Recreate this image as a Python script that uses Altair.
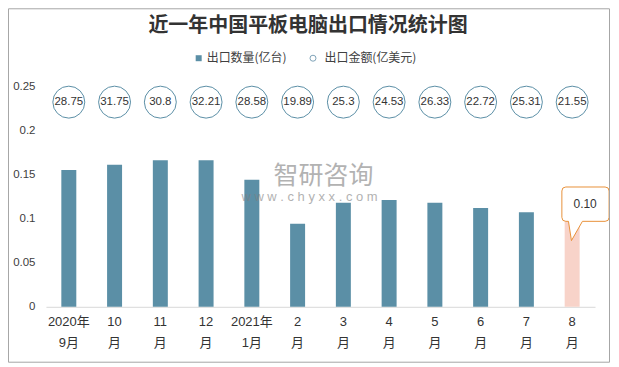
import altair as alt
import pandas as pd

months = ["2020年\n9月", "10\n月", "11\n月", "12\n月", "2021年\n1月", "2\n月",
          "3\n月", "4\n月", "5\n月", "6\n月", "7\n月", "8\n月"]
quantity = [0.155, 0.161, 0.166, 0.166, 0.144, 0.094, 0.118, 0.121, 0.118, 0.112, 0.107, 0.10]
amount = ["28.75", "31.75", "30.8", "32.21", "28.58", "19.89", "25.3", "24.53",
          "26.33", "22.72", "25.31", "21.55"]
y_ticks = [0, 0.05, 0.1, 0.15, 0.2, 0.25]

title_text = "近一年中国平板电脑出口情况统计图"
legend_qty = "出口数量(亿台)"
legend_amt = "出口金额(亿美元)"

df = pd.DataFrame({"month": months, "quantity": quantity, "amount": amount})
one = pd.DataFrame({"k": [0]})

LAT = "Liberation Sans, Noto Sans CJK SC, sans-serif"
CJK = "Noto Sans CJK SC, sans-serif"
BLUE = "#5b8fa6"
PINK = "#f8d3c9"
last = months[-1]

x_enc = alt.X("month:N", sort=months, title=None,
              scale=alt.Scale(paddingInner=0, paddingOuter=0),
              axis=alt.Axis(labelExpr="split(datum.label, '\\n')", labelAngle=0,
                            labelFont=LAT, labelFontSize=13, labelColor="#333333",
                            labelLineHeight=21, labelPadding=9, ticks=False,
                            domainColor="#d9d9d9", domainWidth=1))
x_plain = alt.X("month:N", sort=months)
y_enc = alt.Y("quantity:Q", title=None,
              scale=alt.Scale(domain=[0, 0.25], nice=False, zero=True),
              axis=alt.Axis(values=y_ticks, labelExpr="format(datum.value, '~g')",
                            grid=False, domain=False, ticks=False, labelPadding=11,
                            labelFont=LAT, labelFontSize=11.5, labelColor="#404040"))

base = alt.Chart(df)

bars = base.mark_bar(width=15).encode(
    x=x_enc, y=y_enc,
    color=alt.condition(alt.datum.month == last, alt.value(PINK), alt.value(BLUE)),
)

callout_path = ("M -0.1575 -0.79 L 0.825 -0.79 Q 0.925 -0.79 0.925 -0.69 L 0.925 -0.03 "
                "Q 0.925 0.07 0.825 0.07 L 0.2575 0.07 L -0.0175 0.5525 L -0.0925 0.07 "
                "L -0.1575 0.07 Q -0.2575 0.07 -0.2575 -0.03 L -0.2575 -0.69 "
                "Q -0.2575 -0.79 -0.1575 -0.79 Z")
callout = base.transform_filter(alt.datum.month == last).mark_point(
    shape=callout_path, size=6400, filled=True, fill="white", stroke="#e8923a",
    strokeWidth=1, opacity=1
).encode(x=x_plain, y="quantity:Q")
callout_text = base.transform_filter(alt.datum.month == last).mark_text(
    dx=13, dy=-15, font=LAT, fontSize=12, color="#333333"
).encode(x=x_plain, y="quantity:Q", text=alt.Text("quantity:Q", format=".2f"))

circles = base.mark_point(shape="circle", size=1024, filled=True, fill="white",
                          stroke=BLUE, strokeWidth=1, opacity=1).encode(
    x=x_plain, y=alt.value(16))
circle_text = base.mark_text(font=LAT, fontSize=11.5, color="#333333").encode(
    x=x_plain, y=alt.value(16), text="amount:N")

title = alt.Chart(one).mark_text(text=title_text, font=CJK, fontSize=20, fontWeight="bold",
                                 color="#333333", align="center", baseline="middle").encode(
    x=alt.value(262.5), y=alt.value(-60))

wm1 = alt.Chart(one).mark_text(text="智研咨询", font=CJK, fontSize=25, color="#808080",
                               opacity=0.6).encode(x=alt.value(278), y=alt.value(90))
wm2 = alt.Chart(one).mark_text(text="w w w . c h y x x . c o m", font=LAT, fontSize=13,
                               color="#808080", opacity=0.6).encode(
    x=alt.value(264), y=alt.value(111))

lg1 = alt.Chart(one).mark_point(shape="square", size=36, filled=True, fill=BLUE,
                                opacity=1).encode(x=alt.value(153), y=alt.value(-28))
lg1t = alt.Chart(one).mark_text(text=legend_qty, font=CJK, fontSize=12, color="#404040",
                                align="left", baseline="middle").encode(
    x=alt.value(161), y=alt.value(-28))
lg2 = alt.Chart(one).mark_point(shape="circle", size=36, filled=False, stroke="#7fa3b8",
                                strokeWidth=1, opacity=1).encode(x=alt.value(267.5), y=alt.value(-28))
lg2t = alt.Chart(one).mark_text(text=legend_amt, font=CJK, fontSize=12, color="#404040",
                                align="left", baseline="middle").encode(
    x=alt.value(279), y=alt.value(-28))

frame = alt.Chart(one).mark_rect(fillOpacity=0, stroke="#a6a6a6", strokeWidth=1).encode(
    x=alt.value(-37.5), x2=alt.value(564.5), y=alt.value(-77.5), y2=alt.value(276.5))

chart = alt.layer(
    bars, callout, callout_text, circles, circle_text, title, wm1, wm2,
    lg1, lg1t, lg2, lg2t, frame
).properties(
    width=550, height=221,
    autosize=alt.AutoSizeParams(type="none"),
    padding={"left": 38, "top": 78, "right": 16, "bottom": 57},
    background="white",
).configure_view(stroke=None)

chart.save("out.html", embed_options={"renderer": "svg", "actions": False})
